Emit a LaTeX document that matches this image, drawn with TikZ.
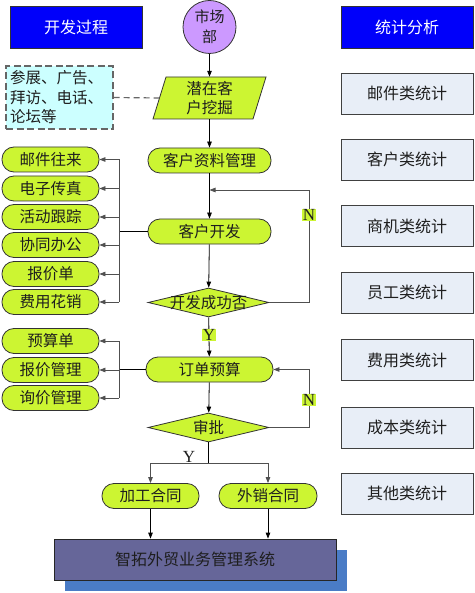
\documentclass[tikz,border=0pt]{standalone}
\usepackage{fontspec}
\setmainfont{Noto Sans CJK SC}
\newfontfamily\latinserif{Liberation Serif}
\usetikzlibrary{arrows.meta,shapes.geometric}
\definecolor{limeg}{RGB}{204,245,50}
\definecolor{hdrblue}{RGB}{0,0,250}
\definecolor{statfill}{RGB}{232,238,247}
\definecolor{cyanbox}{RGB}{204,255,255}
\definecolor{circfill}{RGB}{204,153,255}
\definecolor{sysfill}{RGB}{102,102,153}
\definecolor{shadowblue}{RGB}{74,124,198}
\definecolor{linegray}{RGB}{80,80,80}
\definecolor{txt}{RGB}{30,30,30}
\begin{document}
\begin{tikzpicture}[x=1pt,y=-1pt,
  every node/.style={inner sep=0pt},
  cjk/.style={font=\fontsize{15.5pt}{19.5pt}\selectfont},
  header/.style={font=\fontsize{16pt}{19.5pt}\selectfont, rectangle, draw=black!80, line width=0.8pt, fill=hdrblue, text=white, minimum width=132pt, minimum height=42pt},
  statbox/.style={font=\fontsize{16pt}{19.5pt}\selectfont, rectangle, draw=black!75, line width=0.8pt, fill=statfill, text=txt, minimum width=132pt, minimum height=41pt},
  pill/.style={cjk, rectangle, rounded corners=12pt, draw=black!80, line width=0.8pt, fill=limeg, text=txt, minimum height=25pt},
  dia/.style={diamond, draw=black!80, line width=0.8pt, fill=limeg, minimum width=121pt, minimum height=29pt},
  lineconn/.style={draw=linegray, line width=0.8pt},
  arr/.style={lineconn, -{Triangle[length=6pt,width=4.5pt]}},
  flowarr/.style={draw=black, line width=0.8pt, -{Triangle[length=6pt,width=4.5pt]}},
  yn/.style={font=\latinserif\fontsize{17pt}{17pt}\selectfont, text=txt, inner sep=0.6pt}
]
\useasboundingbox (0,0) rectangle (474,593);

% headers
\node[header] (hleft) at (76,27) {开发过程};
\node[header] (hright) at (407,27) {统计分析};

% statistics column
\node[statbox] (s1) at (407,93.5) {邮件类统计};
\node[statbox] (s2) at (407,159.5) {客户类统计};
\node[statbox] (s3) at (407,226) {商机类统计};
\node[statbox] (s4) at (407,292.5) {员工类统计};
\node[statbox] (s5) at (407,360) {费用类统计};
\node[statbox] (s6) at (407,427.5) {成本类统计};
\node[statbox] (s7) at (407,493.5) {其他类统计};

% market circle
\node[circle, draw=black!80, line width=0.8pt, fill=circfill, minimum size=53pt, align=center, text=txt,
  font=\fontsize{15pt}{20pt}\selectfont] (mkt) at (209.5,27) {市场\\部};

% parallelogram
\fill[limeg] (166,77) -- (266,77) -- (253,119) -- (153,119) -- cycle;
\draw[black!80, line width=0.8pt] (166,77) -- (266,77) -- (253,119) -- (153,119) -- cycle;
\node[cjk, align=center, text=txt, minimum width=100pt, minimum height=42pt] (pq) at (209.5,98) {潜在客\\户挖掘};

% dashed source box
\node[font=\fontsize{15.5pt}{19.5pt}\selectfont, rectangle, draw=black!60, dash pattern=on 7pt off 3.5pt,
  line width=1.4pt, fill=cyanbox, text=txt, align=left, text width=99pt, minimum height=63pt, inner xsep=4pt]
  (src) at (59.5,97.5) {参展、广告、\\拜访、电话、\\论坛等};
\draw[draw=black!60, line width=1.2pt, dash pattern=on 6pt off 4pt] (src.east) -- (pq.west);

% main flow
\node[pill, minimum width=123pt] (zl) at (209.5,160.5) {客户资料管理};
\node[pill, minimum width=123pt] (kf) at (209.5,231.5) {客户开发};
\node[dia, label={[cjk, text=txt]center:开发成功否}] (d1) at (208.5,302.5) {};
\node[pill, minimum width=127pt] (dd) at (209.5,369.5) {订单预算};
\node[dia, label={[cjk, text=txt]center:审批}] (d2) at (208.5,427.5) {};
\node[pill, minimum width=97pt] (jg) at (150.5,496) {加工合同};
\node[pill, minimum width=98pt] (wx) at (268,496) {外销合同};

% system box with shadow
\fill[shadowblue] (65,550) rectangle (347,591);
\node[rectangle, draw=black!85, line width=0.8pt, fill=sysfill, minimum width=282pt, minimum height=41pt,
  font=\fontsize{16pt}{20pt}\selectfont, text=txt] (sys) at (195,559.5) {智拓外贸业务管理系统};

% left activity boxes
\node[pill, minimum width=97pt] (b1) at (50.5,159.5) {邮件往来};
\node[pill, minimum width=97pt] (b2) at (50.5,188.5) {电子传真};
\node[pill, minimum width=97pt] (b3) at (50.5,217) {活动跟踪};
\node[pill, minimum width=97pt] (b4) at (50.5,245) {协同办公};
\node[pill, minimum width=97pt] (b5) at (50.5,274) {报价单};
\node[pill, minimum width=97pt] (b6) at (50.5,302) {费用花销};

\node[pill, minimum width=97pt] (c1) at (50.5,341) {预算单};
\node[pill, minimum width=97pt] (c2) at (50.5,370) {报价管理};
\node[pill, minimum width=97pt] (c3) at (50.5,398) {询价管理};

% connectors main flow
\draw[flowarr] (mkt) -- (pq);
\draw[flowarr] (pq) -- (zl);
\draw[flowarr] (zl) -- (kf);
\draw[flowarr] (kf) -- (d1);
\draw[flowarr] (d1) -- node[yn, fill=limeg, pos=0.45] {Y} (dd);
\draw[flowarr] (dd) -- (d2);

% N loops
\coordinate (n1) at (309,190);
\coordinate (m1) at (209.5,190);
\draw[arr] (d1.east) -| (n1) -- (m1);
\node[yn, fill=limeg] (nlab1) at (309,215) {N};
\coordinate (n2) at (309,369.5);
\draw[arr] (d2.east) -| (n2) -- (dd.east);
\node[yn, fill=limeg] (nlab2) at (309,400) {N};

% branch to contracts
\coordinate (br) at (208.5,463);
\draw[draw=black, line width=0.8pt] (d2.south) -- (br);
\draw[arr] (br) -| (jg.north);
\draw[arr] (br) -| (wx.north);
\node[yn] (ylab2) at (189,457) {Y};
\draw[flowarr] (jg.south) -- (jg.south |- sys.north);
\draw[flowarr] (wx.south) -- (wx.south |- sys.north);

% left spine 1
\coordinate (sp1) at (119,231.5);
\draw[black, line width=1.5pt] (kf.west) -- (sp1);
\draw[lineconn] (sp1 |- b1.east) -- (sp1 |- b6.east);
\foreach \b in {b1,b2,b3,b4,b5,b6} \draw[arr] (sp1 |- \b.east) -- (\b.east);

% left spine 2
\coordinate (sp2) at (119,369.5);
\draw[black, line width=1.5pt] (dd.west) -- (sp2);
\draw[lineconn] (sp2 |- c1.east) -- (sp2 |- c3.east);
\foreach \c in {c1,c2,c3} \draw[arr] (sp2 |- \c.east) -- (\c.east);
\end{tikzpicture}
\end{document}
